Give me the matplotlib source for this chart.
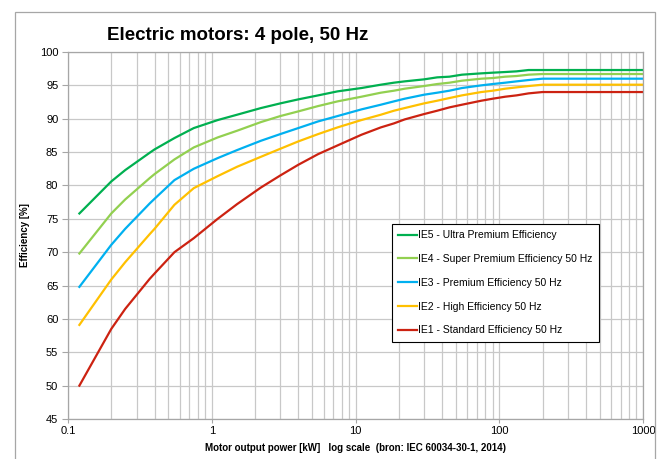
import matplotlib
matplotlib.use("Agg")
import matplotlib.pyplot as plt
from matplotlib.patches import Rectangle
from matplotlib.ticker import NullFormatter, LogLocator

plt.rcParams["font.family"] = ["Liberation Sans", "DejaVu Sans"]

# IEC 60034-30-1, 4 pole, 50 Hz
power_kw = [0.12, 0.2, 0.25, 0.37, 0.4, 0.55, 0.75, 1.1, 1.5, 2.2, 3, 4, 5.5,
            7.5, 11, 15, 18.5, 22, 30, 37, 45, 55, 75, 90, 110, 132, 160, 200, 1000]

ie5 = [75.8, 80.6, 82.3, 84.9, 85.4, 87.1, 88.6, 89.8, 90.6, 91.6, 92.3, 92.9, 93.5,
       94.1, 94.6, 95.1, 95.4, 95.6, 95.9, 96.2, 96.3, 96.6, 96.8, 96.9, 97.0, 97.1, 97.3, 97.3, 97.3]
ie4 = [69.8, 75.8, 77.9, 81.1, 81.7, 83.9, 85.7, 87.2, 88.2, 89.5, 90.4, 91.1, 91.9,
       92.6, 93.3, 93.9, 94.2, 94.5, 94.9, 95.2, 95.4, 95.7, 96.0, 96.1, 96.3, 96.4, 96.6, 96.7, 96.7]
ie3 = [64.8, 71.1, 73.5, 77.3, 78.0, 80.8, 82.5, 84.1, 85.3, 86.7, 87.7, 88.6, 89.6,
       90.4, 91.4, 92.1, 92.6, 93.0, 93.6, 93.9, 94.2, 94.6, 95.0, 95.2, 95.4, 95.6, 95.8, 96.0, 96.0]
ie2 = [59.1, 65.9, 68.5, 72.7, 73.5, 77.1, 79.6, 81.4, 82.8, 84.3, 85.5, 86.6, 87.7,
       88.7, 89.8, 90.6, 91.2, 91.6, 92.3, 92.7, 93.1, 93.5, 94.0, 94.2, 94.5, 94.7, 94.9, 95.1, 95.1]
ie1 = [50.0, 58.5, 61.5, 66.0, 66.8, 70.0, 72.1, 75.0, 77.2, 79.7, 81.5, 83.1, 84.7,
       86.0, 87.6, 88.7, 89.3, 89.9, 90.7, 91.2, 91.7, 92.1, 92.7, 93.0, 93.3, 93.5, 93.8, 94.0, 94.0]

series = [
    (ie5, "IE5 - Ultra Premium Efficiency", "#00B050"),
    (ie4, "IE4 - Super Premium Efficiency 50 Hz", "#92D050"),
    (ie3, "IE3 - Premium Efficiency 50 Hz", "#00B0F0"),
    (ie2, "IE2 - High Efficiency 50 Hz", "#FFC000"),
    (ie1, "IE1 - Standard Efficiency 50 Hz", "#CC2211"),
]

x_ticks = [0.1, 1, 10, 100, 1000]
x_tick_labels = ["0.1", "1", "10", "100", "1000"]
y_ticks = list(range(45, 101, 5))

fig = plt.figure(figsize=(6.7, 4.59), dpi=100)
fig.patch.set_facecolor("white")

# buitenrand van het diagram
fig.patches.append(Rectangle((15 / 670, -0.05), 640 / 670, 1.05 - 12 / 459,
                             transform=fig.transFigure, fill=False,
                             edgecolor="#A6A6A6", linewidth=0.9))

ax = fig.add_axes([68 / 670, 1 - 419 / 459, 575 / 670, 367 / 459])

for vals, label, color in series:
    ax.plot(power_kw, vals, color=color, linewidth=1.6, label=label)

ax.set_xscale("log")
ax.set_xlim(0.1, 1000)
ax.set_ylim(45, 100)
ax.set_xticks(x_ticks)
ax.set_xticklabels(x_tick_labels)
ax.xaxis.set_minor_locator(LogLocator(base=10, subs=range(2, 10)))
ax.xaxis.set_minor_formatter(NullFormatter())
ax.set_yticks(y_ticks)

grid_col = "#C8C8C8"
ax.grid(True, which="major", axis="both", color=grid_col, linewidth=0.9)
ax.grid(True, which="minor", axis="x", color=grid_col, linewidth=0.9)
ax.set_axisbelow(True)
for sp in ax.spines.values():
    sp.set_color("#A6A6A6")
    sp.set_linewidth(0.9)
ax.tick_params(axis="both", which="major", labelsize=8, length=4, color="#A6A6A6", pad=3)
ax.tick_params(axis="x", which="minor", length=0)
ax.tick_params(axis="x", which="major", length=3, pad=2)

ax.set_xlabel("Motor output power [kW]   log scale  (bron: IEC 60034-30-1, 2014)",
              fontsize=7, fontweight="bold", labelpad=5)
ax.set_ylabel("Efficiency [%]", fontsize=7, fontweight="bold", labelpad=7)

fig.text(107 / 670, 1 - 35 / 459, "Electric motors: 4 pole, 50 Hz",
         fontsize=13.5, fontweight="bold", ha="left", va="center")

leg = ax.legend(loc="upper left", bbox_to_anchor=(0.563, 0.531), borderaxespad=0,
                fontsize=7.5, handlelength=1.8, handletextpad=0.15, labelspacing=1.32,
                fancybox=False, framealpha=1, edgecolor="black", borderpad=0.6)
leg.get_frame().set_linewidth(0.8)

fig.savefig("out.png", dpi=100)
